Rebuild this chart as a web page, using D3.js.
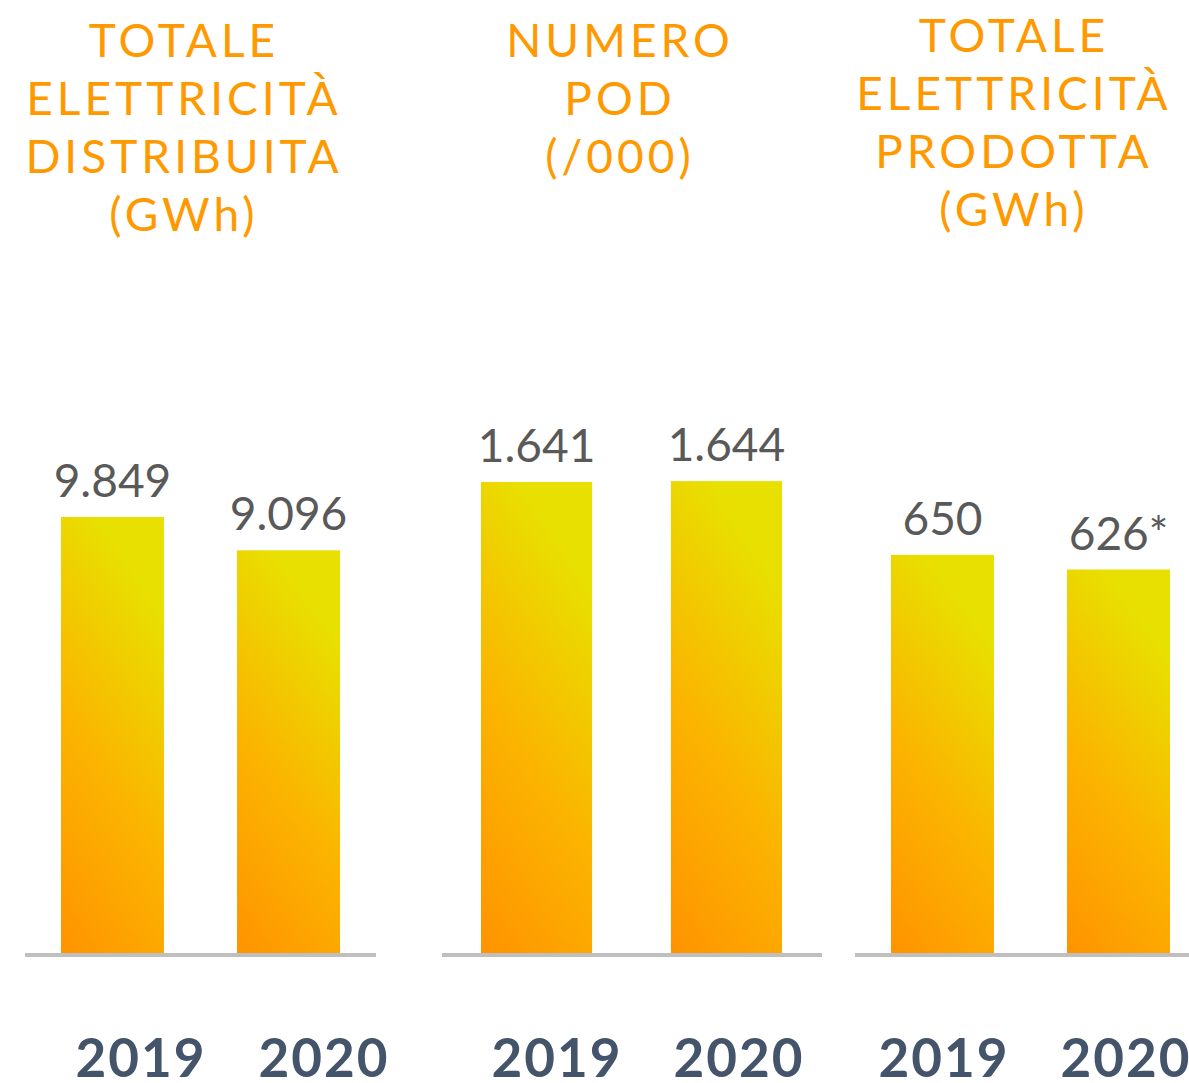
<!DOCTYPE html>
<html>
<head>
<meta charset="utf-8">
<script src="https://cdn.jsdelivr.net/npm/d3@7"></script>
<style>
  body { margin: 0; background: #fff; }
  svg { display: block; }
  .title { font-family: Lato, sans-serif; fill: #FF9900; font-size: 46px; letter-spacing: 4px; }
  .value { font-family: Lato, sans-serif; fill: #595959; font-size: 46px; }
  .year { font-family: Lato, sans-serif; font-weight: 700; fill: #44546A; font-size: 53px; letter-spacing: 2px; }
</style>
</head>
<body>
<div id="chart"></div>
<script>
// Chart data
const years = ['2019', '2020'];
const panelTitles = [
    ['TOTALE', 'ELETTRICITÀ', 'DISTRIBUITA', '(GWh)'],
    ['NUMERO', 'POD', '(/000)'],
    ['TOTALE', 'ELETTRICITÀ', 'PRODOTTA', '(GWh)']
];
const distribuita = [9849, 9096];
const pod = [1641, 1644];
const prodotta = [650, 626];
const valueNotes = [['', ''], ['', ''], ['', '*']];
const panelMax = [14750, 2275, 1066];

const series = [distribuita, pod, prodotta];

// Layout for each panel
const layout = [
    { title: 184, titleY: 57, line: [25, 376], bars: [61, 340], yearsAt: [141, 324] },
    { title: 620, titleY: 57, line: [442, 822], bars: [481, 782], yearsAt: [557, 739] },
    { title: 1014, titleY: 52, line: [855, 1189], bars: [891, 1170], yearsAt: [944, 1126] }
];

const width = 1189;
const height = 1083;
const baseY = 953;
const topY = 300;

const it = d3.formatLocale({ decimal: ',', thousands: '.', grouping: [3], currency: ['€', ''] });
const fmt = it.format(',d');

const svg = d3.select('#chart')
    .append('svg')
    .attr('width', width)
    .attr('height', height);

// Diagonal gradient, orange bottom-left to yellow top-right
const grad = svg.append('defs')
    .append('linearGradient')
    .attr('id', 'barGrad')
    .attr('x1', 0).attr('y1', 1)
    .attr('x2', 0.35).attr('y2', 0);
grad.append('stop').attr('offset', '0%').attr('stop-color', '#FF9300');
grad.append('stop').attr('offset', '50%').attr('stop-color', '#FBB400');
grad.append('stop').attr('offset', '100%').attr('stop-color', '#E8E000');

series.forEach((values, i) => {
    const L = layout[i];
    const g = svg.append('g');

    const x = d3.scaleBand()
        .domain(years)
        .range(L.bars)
        .paddingInner(0.415)
        .paddingOuter(0);

    const y = d3.scaleLinear()
        .domain([0, panelMax[i]])
        .range([baseY, topY]);

    const xYear = d3.scalePoint()
        .domain(years)
        .range(L.yearsAt);

    // Title lines
    g.selectAll('.title')
        .data(panelTitles[i])
        .enter()
        .append('text')
        .attr('class', 'title')
        .attr('x', L.title)
        .attr('y', (d, j) => L.titleY + j * 58)
        .attr('text-anchor', 'middle')
        .text(d => d);

    // Bars
    g.selectAll('.bar')
        .data(values)
        .enter()
        .append('rect')
        .attr('class', 'bar')
        .attr('x', (d, j) => x(years[j]))
        .attr('y', d => y(d))
        .attr('width', x.bandwidth())
        .attr('height', d => baseY - y(d))
        .attr('fill', 'url(#barGrad)');

    // Baseline
    g.append('line')
        .attr('x1', L.line[0])
        .attr('x2', L.line[1])
        .attr('y1', baseY + 2)
        .attr('y2', baseY + 2)
        .attr('stroke', '#BFBFBF')
        .attr('stroke-width', 4);

    // Value labels
    g.selectAll('.value')
        .data(values)
        .enter()
        .append('text')
        .attr('class', 'value')
        .attr('x', (d, j) => x(years[j]) + x.bandwidth() / 2)
        .attr('y', d => y(d) - 20)
        .attr('text-anchor', 'middle')
        .text((d, j) => fmt(d) + valueNotes[i][j]);

    // Year labels
    g.selectAll('.year')
        .data(years)
        .enter()
        .append('text')
        .attr('class', 'year')
        .attr('x', d => xYear(d))
        .attr('y', 1077)
        .attr('text-anchor', 'middle')
        .text(d => d);
});
</script>
</body>
</html>
